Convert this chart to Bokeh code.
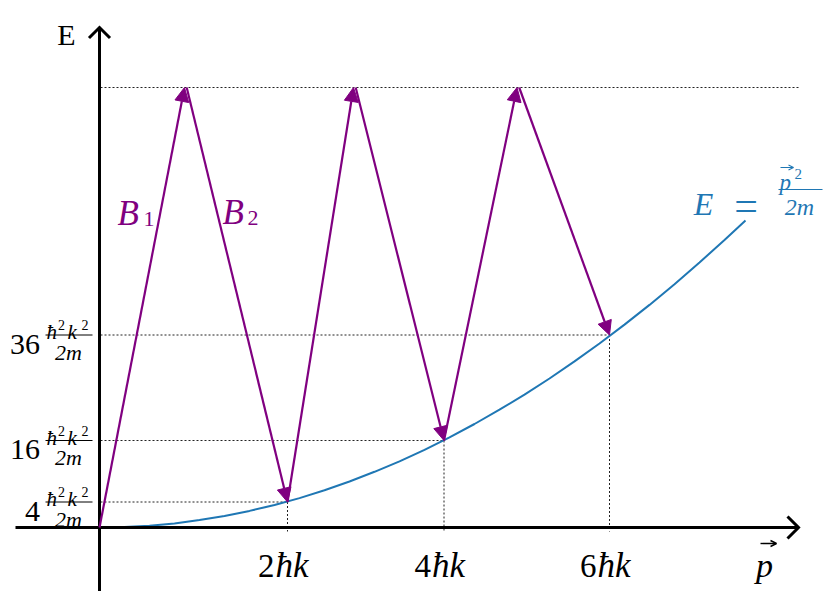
from bokeh.plotting import figure
from bokeh.models import Arrow, NormalHead, OpenHead, Range1d, ColumnDataSource
from bokeh.core.properties import value
from bokeh.embed import file_html
from bokeh.resources import INLINE

# ---------------- data ----------------
p_ticks = [1.88, 3.445, 5.10]               # positions of 2ħk, 4ħk, 6ħk
p_tick_labels = ["2ħk", "4ħk", "6ħk"]
E_levels = [0.255, 0.87, 1.925]             # energies 4, 16, 36 ħ²k²/2m
E_level_labels = ["4", "16", "36"]
E_top = 4.40                                # upper (virtual) level
peak_p = [0.85, 2.54, 4.175]                # momentum at the top of each B1 transition
start_p = [0.0, 1.88, 3.445]                # start of each up-going arrow
start_E = [0.0, 0.255, 0.87]
curve_p = [0.0, 0.25, 0.5, 0.75, 1.0, 1.25, 1.5, 1.75, 2.0, 2.25, 2.5, 2.75, 3.0, 3.25,
           3.5, 3.75, 4.0, 4.25, 4.5, 4.75, 5.0, 5.25, 5.5, 5.75, 6.0, 6.25, 6.46]
curve_E = [0.0, 0.005, 0.018, 0.041, 0.074, 0.115, 0.166, 0.225, 0.294, 0.373, 0.46,
           0.557, 0.662, 0.777, 0.902, 1.035, 1.178, 1.329, 1.49, 1.661, 1.84, 2.029,
           2.226, 2.433, 2.65, 2.875, 3.07]

PURPLE = "#800080"
BLUE = "#1f77b4"
SERIF = value("Liberation Serif")
DOT = "#222222"

p = figure(width=824, height=591, output_backend="svg", toolbar_location=None,
           x_range=Range1d(-0.99, 7.25), y_range=Range1d(-0.64, 5.27),
           min_border=0, outline_line_color=None)
p.axis.visible = False
p.grid.visible = False
p.background_fill_color = "white"
p.border_fill_color = "white"


def txt(x, y, t, size, color="black", italic=False, align="left"):
    p.text(x=x, y=y, text=t, text_font=SERIF, text_font_size=value(size),
           text_font_style="italic" if italic else "normal", text_align=align,
           text_baseline="alphabetic", text_color=color)


# ---------------- dotted guide lines ----------------
p.line([0.01, 7.0], [E_top, E_top], line_color=DOT, line_width=1, line_dash="2 2")
for xv, yv in zip(p_ticks, E_levels):
    p.line([0.01, xv], [yv, yv], line_color=DOT, line_width=1, line_dash="2 2")
    p.line([xv, xv], [yv, -0.04], line_color=DOT, line_width=1, line_dash="2 2")

# ---------------- dispersion curve ----------------
p.line(curve_p, curve_E, line_color=BLUE, line_width=2)

# ---------------- purple transitions ----------------
up_src = ColumnDataSource(dict(x0=start_p, y0=start_E, x1=peak_p, y1=[E_top] * 3))
down_src = ColumnDataSource(dict(x0=[v + 0.022 for v in peak_p], y0=[E_top] * 3,
                                 x1=p_ticks, y1=E_levels))
for src in (up_src, down_src):
    p.add_layout(Arrow(x_start="x0", y_start="y0", x_end="x1", y_end="y1", source=src,
                       line_color=PURPLE, line_width=2.2,
                       end=NormalHead(size=14, fill_color=PURPLE, line_color=PURPLE, line_width=1)))

# ---------------- axes with chevron heads ----------------
x_ax_end = 6.99
y_ax_end = 5.00
p.line([-0.84, x_ax_end], [0, 0], line_color="black", line_width=3)
p.line([0, 0], [-0.70, y_ax_end], line_color="black", line_width=3)
p.multi_line([[x_ax_end - 0.11, x_ax_end, x_ax_end - 0.11], [-0.105, 0, 0.105]],
             [[0.11, 0, -0.11], [y_ax_end - 0.105, y_ax_end, y_ax_end - 0.105]],
             line_color="black", line_width=3, line_join="miter")

# ---------------- axis titles ----------------
txt([-0.33], [4.93], ["E"], "30px", align="center")
txt([6.65], [-0.38], ["p"], "34px", italic=True, align="center")
p.add_layout(Arrow(x_start=6.61, y_start=-0.16, x_end=6.77, y_end=-0.16,
                   line_color="black", line_width=1.4,
                   end=OpenHead(size=6, line_color="black", line_width=1.4)))

# tick labels: upright digit + italic ħk
split = -0.13
base_tick = -0.38
txt([v + split for v in p_ticks], [base_tick] * 3, [s[0] for s in p_tick_labels], "33px",
    align="right")
txt([v + split + 0.01 for v in p_ticks], [base_tick] * 3, [s[1:] for s in p_tick_labels],
    "35px", italic=True)

# energy level labels: number + fraction ħ²k²/2m
frac_x0, frac_x1 = -0.54, -0.07
txt([-0.595] * 3, [v - 0.09 for v in E_levels], E_level_labels, "30px", align="right")
txt([-0.53] * 3, [v + 0.03 for v in E_levels], ["ħ"] * 3, "21px", italic=True)
txt([-0.415] * 3, [v + 0.10 for v in E_levels], ["2"] * 3, "14px")
txt([-0.32] * 3, [v + 0.03 for v in E_levels], ["k"] * 3, "21px", italic=True)
txt([-0.18] * 3, [v + 0.10 for v in E_levels], ["2"] * 3, "14px")
txt([-0.31] * 3, [v - 0.17 for v in E_levels], ["2m"] * 3, "22px", italic=True, align="center")
p.segment(x0=[frac_x0] * 3, y0=E_levels, x1=[frac_x1] * 3, y1=E_levels,
          line_color="black", line_width=1)

# ---------------- curve label E = p²/2m ----------------
txt([6.04], [3.24], ["E"], "32px", color=BLUE, italic=True, align="center")
txt([6.465], [3.22], ["="], "42px", color=BLUE, align="center")
txt([6.80], [3.45], ["p"], "23px", color=BLUE, italic=True)
txt([6.95], [3.54], ["2"], "15px", color=BLUE)
p.add_layout(Arrow(x_start=6.81, y_start=3.60, x_end=6.94, y_end=3.60,
                   line_color=BLUE, line_width=1.1,
                   end=OpenHead(size=5, line_color=BLUE, line_width=1.1)))
txt([7.00], [3.21], ["2m"], "24px", color=BLUE, italic=True, align="center")
p.segment(x0=[6.79], y0=[3.38], x1=[7.23], y1=[3.38], line_color=BLUE, line_width=1.2)

# ---------------- B1 / B2 labels ----------------
txt([0.18, 1.23], [3.14, 3.15], ["B", "B"], "35px", color=PURPLE, italic=True)
txt([0.44, 1.48], [3.09, 3.10], ["1", "2"], "22px", color=PURPLE)

open("out.html", "w").write(file_html(p, INLINE))
